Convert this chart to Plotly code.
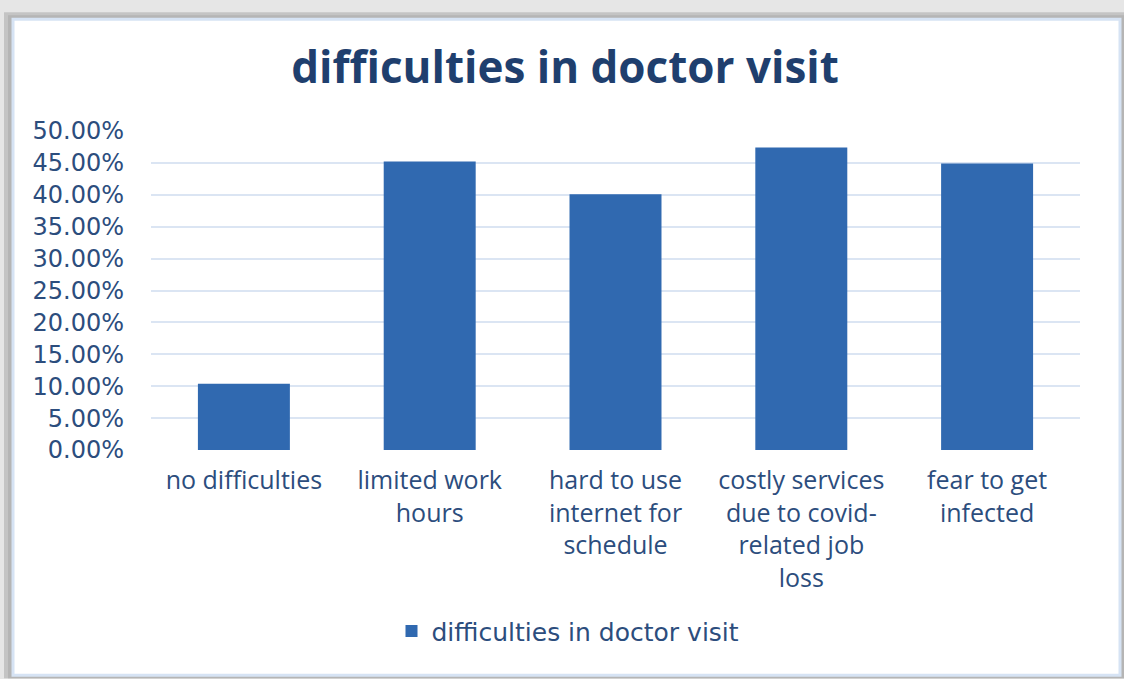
import plotly.graph_objects as go

categories = [
    "no difficulties",
    "limited work<br>hours",
    "hard to use<br>internet for<br>schedule",
    "costly services<br>due to covid-<br>related job<br>loss",
    "fear to get<br>infected",
]
values = [0.104, 0.452, 0.401, 0.474, 0.449]
series_name = "difficulties in doctor visit"
title_text = "difficulties in doctor visit"
y_ticks = [i * 0.05 for i in range(11)]
y_tick_labels = [f"{v*100:.2f}%" for v in y_ticks]

W, H = 1124, 679
L, R, T, B = 151, 1080, 131, 450.5


def px(x):
    return (x - L) / (R - L)


def py(y):
    return (B - y) / (B - T)


fig = go.Figure()
fig.add_trace(go.Bar(
    x=categories,
    y=values,
    name=series_name,
    marker=dict(color="#3069b0", line=dict(width=0)),
    showlegend=True,
))

shapes = []
# frame / shadow decoration
shapes.append(dict(type="rect", xref="paper", yref="paper", layer="below",
                   x0=px(0), x1=px(W), y0=py(H), y1=py(0),
                   fillcolor="#e6e6e6", line=dict(width=0)))
shapes.append(dict(type="rect", xref="paper", yref="paper", layer="below",
                   x0=px(4), x1=px(W), y0=py(H), y1=py(12),
                   fillcolor="#c4c4c4", line=dict(width=0)))
shapes.append(dict(type="rect", xref="paper", yref="paper", layer="below",
                   x0=px(8), x1=px(W), y0=py(H), y1=py(15),
                   fillcolor="#b5b5b5", line=dict(width=0)))
shapes.append(dict(type="rect", xref="paper", yref="paper", layer="below",
                   x0=px(13), x1=px(1120), y0=py(676), y1=py(19),
                   fillcolor="#ffffff", line=dict(color="#d6e3f4", width=3)))

fig.update_layout(
    width=W, height=H,
    margin=dict(l=L, r=W - R, t=T, b=H - B),
    paper_bgcolor="#e6e6e6",
    plot_bgcolor="#ffffff",
    shapes=shapes,
    bargap=0.505,
    title=dict(
        text="<b>" + title_text + "</b>",
        x=565 / W, xanchor="center",
        y=1 - 68 / H, yanchor="middle",
        font=dict(family="Open Sans", size=44, color="#1f3f6e"),
    ),
    yaxis=dict(
        range=[0, 0.5],
        tickvals=y_ticks,
        ticktext=y_tick_labels,
        showgrid=True,
        gridcolor="#dbe5f3",
        gridwidth=2,
        zeroline=False,
        showline=False,
        tickfont=dict(family="DejaVu Sans", size=24, color="#2c4d7d"),
        ticks="",
        ticklabelstandoff=26,
    ),
    xaxis=dict(
        showgrid=False,
        showline=False,
        zeroline=False,
        ticks="",
        tickfont=dict(family="Open Sans", size=25, color="#2c4d7d"),
        ticklabelstandoff=13,
        tickangle=0,
    ),
    legend=dict(
        orientation="h",
        x=px(568), xanchor="center",
        y=py(632), yanchor="middle",
        bgcolor="rgba(0,0,0,0)",
        font=dict(family="DejaVu Sans", size=25, color="#2c4d7d"),
        itemwidth=30,
    ),
)

fig.write_html("out.html")
